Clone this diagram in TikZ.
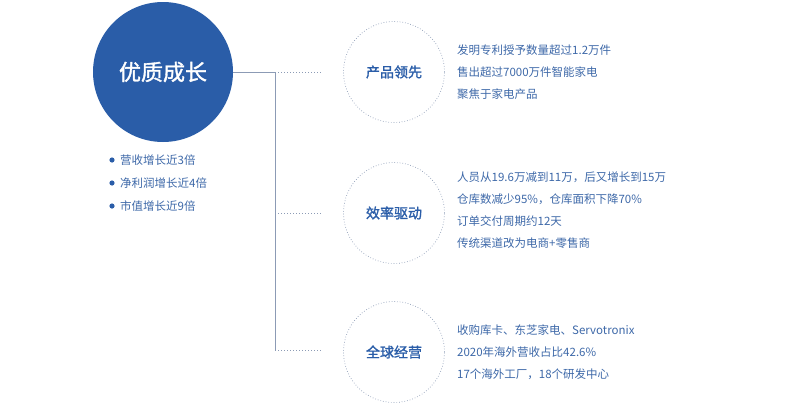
\documentclass[tikz,border=0pt]{standalone}
\usepackage{fontspec}
\newfontfamily\cjk{Noto Sans CJK SC}
\newfontfamily\cjkb[FakeBold=1.5]{Noto Sans CJK SC}
\definecolor{mblue}{HTML}{2A5DA8}
\definecolor{tblue}{HTML}{3D68A8}
\definecolor{lgray}{HTML}{8C9BB5}
\begin{document}
\begin{tikzpicture}[x=1pt,y=-1pt,
  big/.style={circle,fill=mblue,minimum size=140pt,inner sep=0pt,text=white,font=\cjkb\fontsize{22}{26}\selectfont},
  small/.style={circle,draw=lgray,dotted,line width=0.7pt,minimum size=101pt,inner sep=0pt,text=mblue,font=\cjkb\fontsize{14}{17}\selectfont},
  info/.style={anchor=west,text=tblue,font=\cjk\fontsize{11.5}{22}\selectfont,align=left,inner sep=0pt},
  trunk/.style={draw=lgray,line width=1pt},
  twig/.style={draw=lgray,dotted,line width=1pt}]
\useasboundingbox (0,0) rectangle (789,407);
\node[big] (main) at (163,72) {优质成长};
\node[small] (c1) at (394,72) {产品领先};
\node[small] (c2) at (394,213) {效率驱动};
\node[small] (c3) at (394,352) {全球经营};
\coordinate (j1) at (275,72);
\coordinate (j2) at (275,213);
\coordinate (j3) at (275,350);
\coordinate (e1) at (322,72);
\coordinate (e2) at (322,213);
\coordinate (e3) at (322,350);
\draw[trunk] (main.east) -- (j1) -- (j3);
\draw[twig] (j1) -- (e1);
\draw[twig] (j2) -- (e2);
\draw[twig] (j3) -- (e3);
\node[info] (t1) at (457,72) {发明专利授予数量超过1.2万件\\售出超过7000万件智能家电\\聚焦于家电产品};
\node[info] (t2) at (457,210) {人员从19.6万减到11万，后又增长到15万\\仓库数减少95\%，仓库面积下降70\%\\订单交付周期约12天\\传统渠道改为电商+零售商};
\node[info] (t3) at (457,352) {收购库卡、东芝家电、Servotronix\\2020年海外营收占比42.6\%\\17个海外工厂，18个研发中心};
\foreach \y/\t [count=\i] in {160/营收增长近3倍,183/净利润增长近4倍,206/市值增长近9倍}{
  \fill[mblue] (112,\y) circle (2.6pt);
  \node[info,font=\cjk\fontsize{11.5}{14}\selectfont] (b\i) at (120,\y) {\t};
}
\end{tikzpicture}
\end{document}
